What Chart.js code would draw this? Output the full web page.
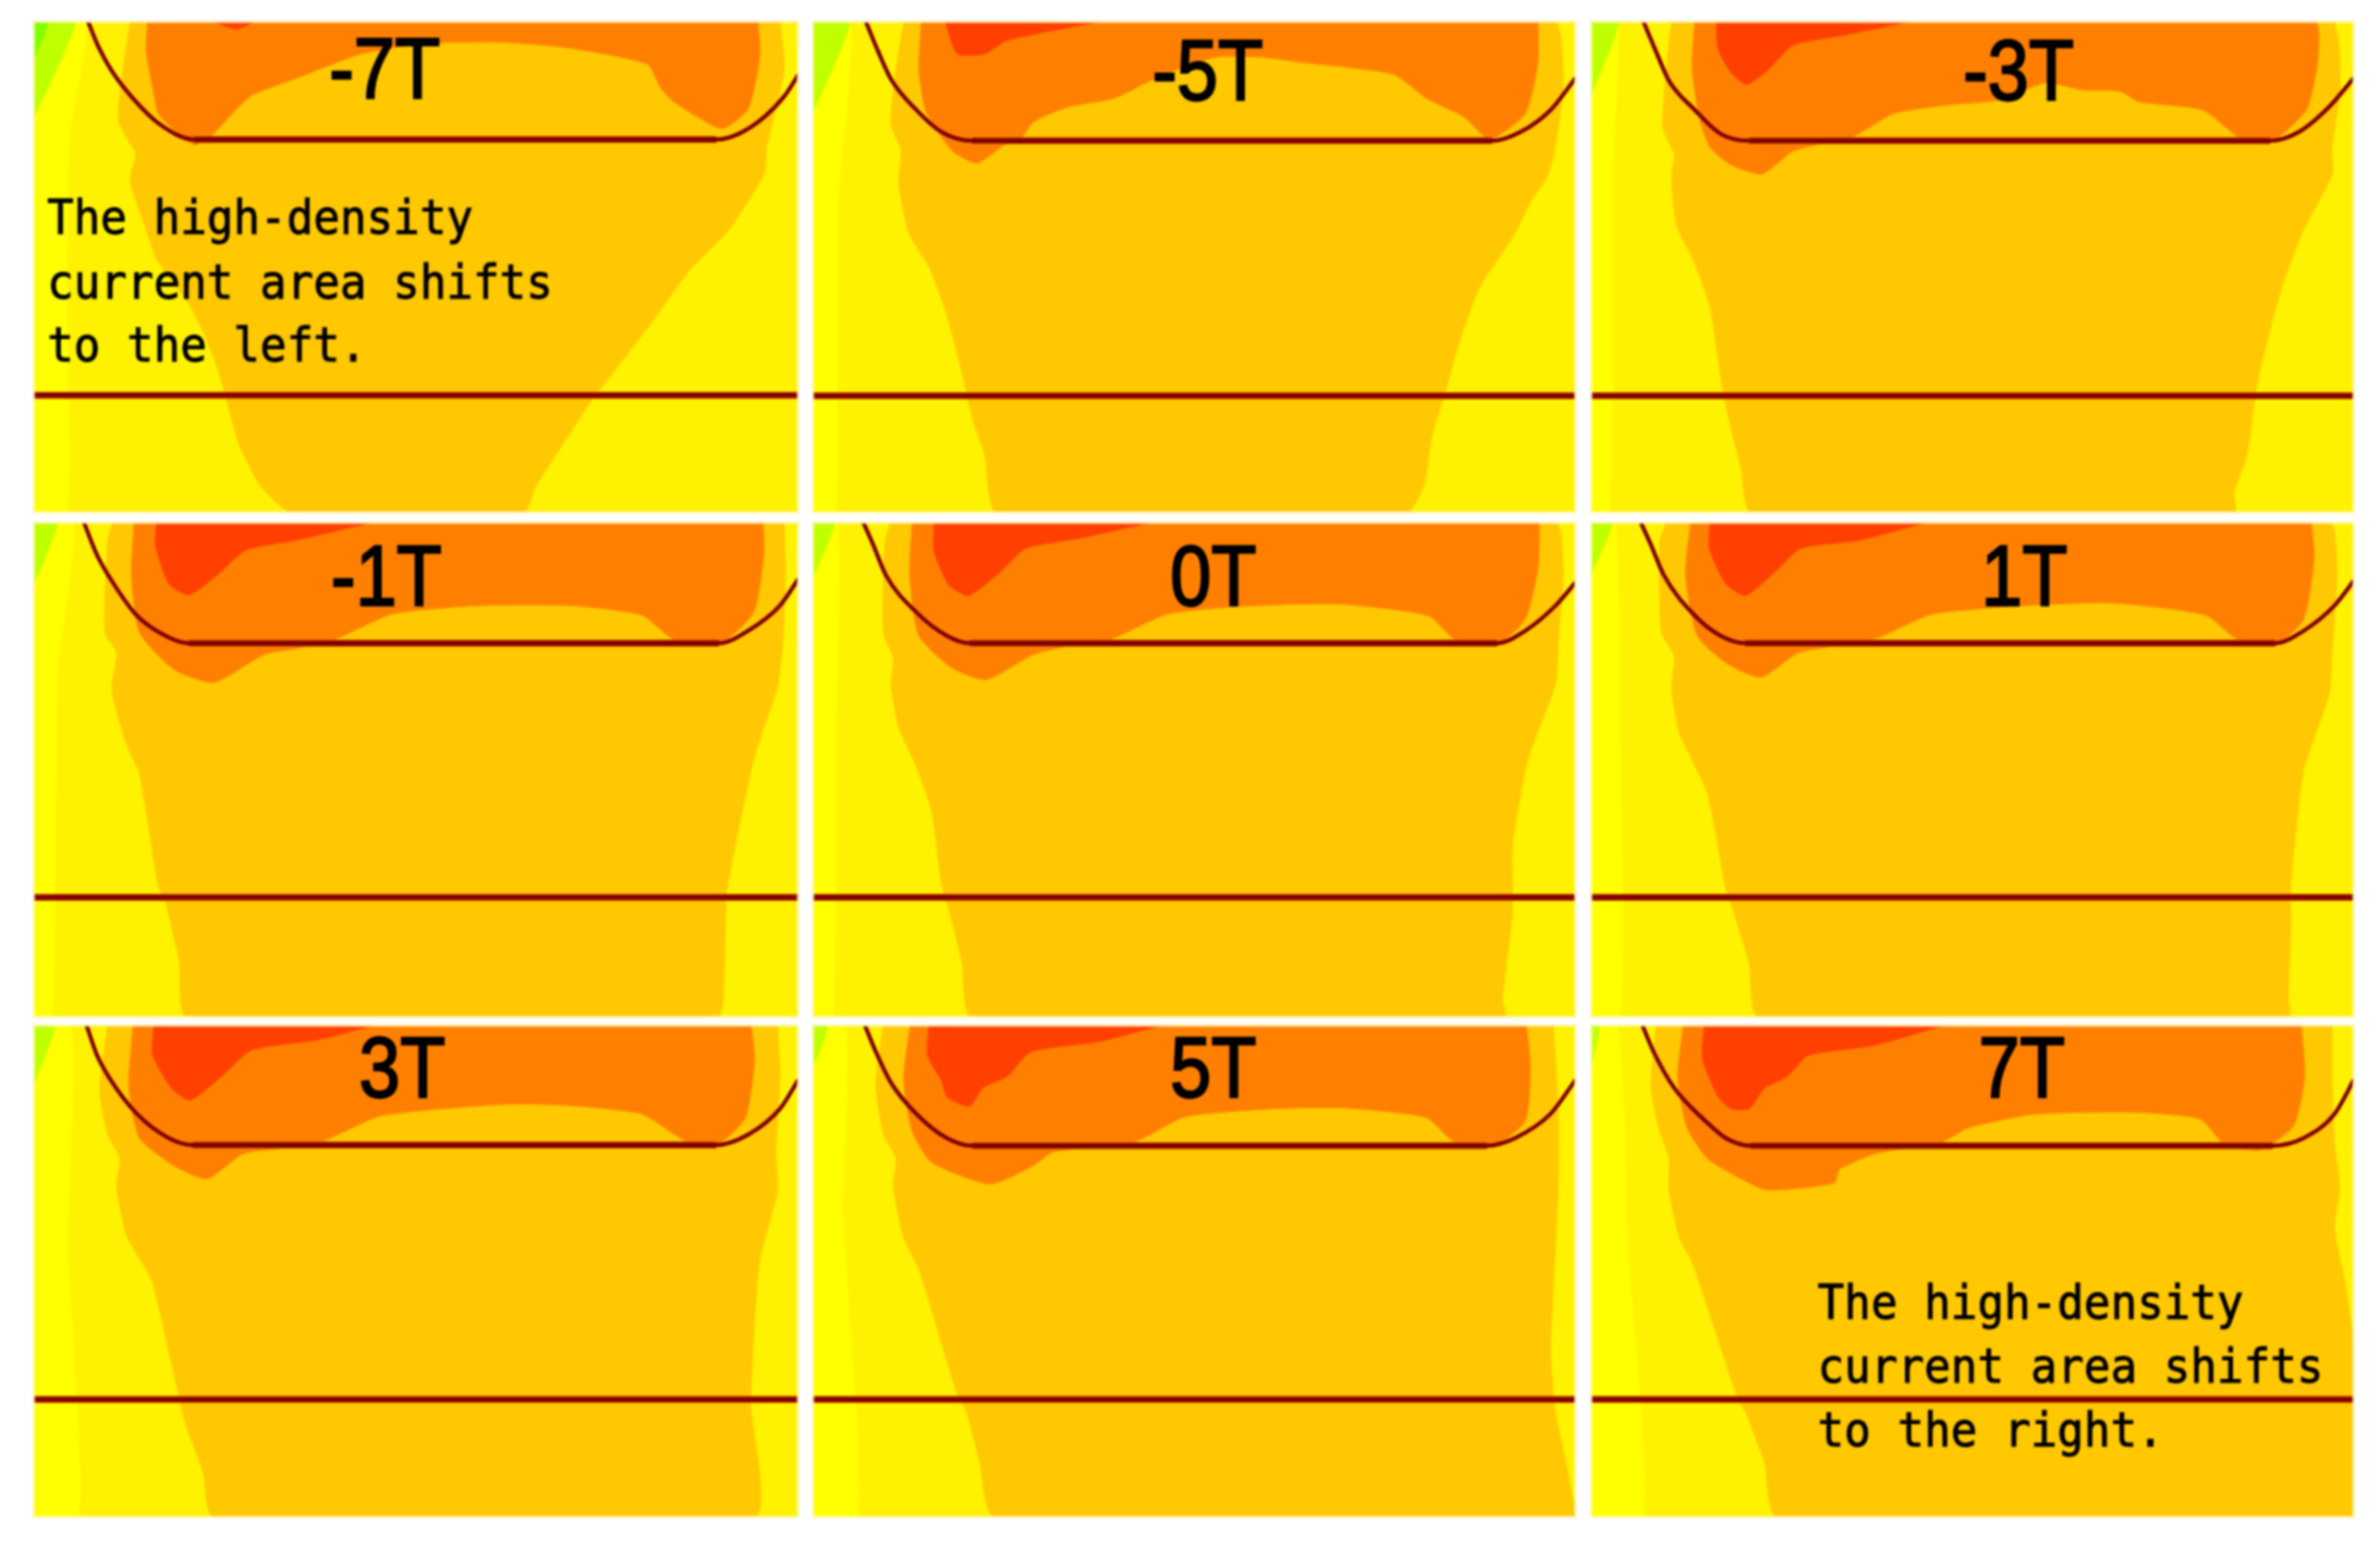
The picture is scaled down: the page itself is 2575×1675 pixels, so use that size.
<!DOCTYPE html>
<html>
<head>
<meta charset="utf-8">
<title>Current density maps</title>
<script src="https://cdn.jsdelivr.net/npm/chart.js@4"></script>
<style>
  body { margin: 0; background: #fff; width: 2575px; height: 1675px; position: relative; overflow: hidden; }
  canvas { position: absolute; outline: 3px solid rgba(255, 248, 200, 0.75); outline-offset: -2px; filter: blur(0.8px); }
</style>
</head>
<body>
<script>
// Panel names, left to right, top to bottom
const fieldLabels = ['-7T', '-5T', '-3T', '-1T', '0T', '1T', '3T', '5T', '7T'];

// Scale range of each panel, in the units the contours were read in
const xRanges = [[62,1505],[35,1540],[38,1518],[65,1505],[35,1540],[38,1518],[65,1505],[35,1540],[38,1518]];
const yRanges = [[65,1500],[60,1500],[60,1500],[42,1515],[42,1515],[42,1515],[52,1480],[52,1480],[52,1480]];

// Straight electrode line across each panel
const midLine = [1157,1157,1157,1158,1158,1158,1138,1138,1138];

// Contours, one row per panel
const greenCorner = [[62,65],[90,65],[62,180]];

const limeZone = [
  [[62,65],[140,65],[62,350]],
  [[35,60],[108,60],[35,330]],
  [[38,60],[92,60],[38,280]],
  [[65,42],[110,42],[65,230]],
  [[35,42],[78,42],[35,210]],
  [[38,42],[80,42],[38,200]],
  [[65,52],[105,52],[65,230]],
  [[35,52],[65,52],[35,180]],
  [[38,52],[55,52],[38,180]]
];

const stripZone = [
  [[62,65],[160,65],[130,400],[125,900],[125,1500],[62,1500]],
  [[35,60],[110,60],[85,600],[80,1500],[35,1500]],
  [[38,60],[90,60],[80,500],[75,1500],[38,1500]],
  [[65,42],[140,42],[110,500],[100,1515],[65,1515]],
  [[35,42],[85,42],[80,700],[75,1515],[35,1515]],
  [[38,42],[85,42],[95,700],[95,1515],[38,1515]],
  [[65,52],[135,52],[130,700],[150,1480],[65,1480]],
  [[35,52],[100,52],[95,600],[125,1480],[35,1480]],
  [[38,52],[90,52],[110,700],[140,1480],[38,1480]]
];

const amberZone = [
  [[245,65],[232,200],[222,350],[240,410],[255,450],[245,530],[270,650],[295,760],[355,890],[385,980],[410,1080],[430,1190],[450,1300],[490,1420],[550,1500],[985,1500],[1010,1420],[1060,1300],[1115,1170],[1170,1060],[1225,950],[1300,790],[1370,680],[1440,510],[1445,430],[1465,300],[1478,200],[1470,65]],
  [[215,60],[200,200],[190,360],[210,440],[205,530],[225,680],[265,780],[300,920],[330,1090],[350,1220],[375,1330],[400,1500],[1205,1500],[1240,1420],[1255,1280],[1285,1130],[1310,1000],[1350,840],[1420,680],[1450,590],[1485,510],[1500,420],[1515,250],[1510,100],[1500,60]],
  [[195,60],[185,200],[178,370],[200,450],[195,520],[205,660],[240,770],[270,900],[290,1100],[305,1220],[330,1370],[350,1500],[1285,1500],[1285,1440],[1310,1330],[1330,1120],[1375,850],[1420,670],[1475,510],[1475,430],[1490,270],[1490,150],[1480,60]],
  [[215,42],[205,100],[200,370],[222,430],[213,540],[240,700],[265,790],[300,1120],[315,1180],[340,1350],[355,1515],[1350,1515],[1365,1370],[1370,1140],[1420,750],[1465,530],[1475,400],[1480,200],[1478,42]],
  [[190,42],[178,100],[175,370],[195,450],[190,520],[205,650],[240,770],[270,900],[290,1120],[305,1200],[330,1350],[350,1515],[1400,1515],[1395,1460],[1415,1200],[1415,1000],[1445,750],[1500,520],[1505,400],[1515,200],[1510,70],[1500,42]],
  [[185,42],[172,100],[175,370],[200,440],[195,540],[210,670],[235,750],[265,850],[300,1130],[315,1200],[345,1350],[365,1515],[1390,1515],[1390,1450],[1395,1250],[1395,1120],[1420,780],[1470,550],[1475,430],[1485,200],[1480,70],[1472,42]],
  [[205,52],[190,240],[205,370],[228,440],[222,520],[240,660],[265,730],[290,800],[335,1100],[350,1200],[385,1350],[405,1480],[1420,1480],[1415,1150],[1430,750],[1465,530],[1462,430],[1470,200],[1465,52]],
  [[175,52],[160,220],[175,370],[200,440],[195,520],[215,670],[245,760],[320,1120],[340,1180],[365,1320],[395,1480],[1540,1480],[1520,1320],[1500,1180],[1490,1000],[1505,520],[1505,300],[1495,52]],
  [[165,52],[155,230],[170,350],[190,440],[190,530],[210,670],[235,740],[320,1120],[340,1180],[375,1320],[400,1480],[1518,1480],[1518,1000],[1500,800],[1480,640],[1490,520],[1480,400],[1475,200],[1475,52]]
];

const orangeZone = [
  [[278,65],[275,150],[290,280],[300,340],[365,425],[400,395],[470,285],[560,230],[680,160],[800,130],[930,125],[1060,140],[1220,190],[1245,260],[1270,300],[1360,378],[1410,320],[1432,160],[1428,65]],
  [[250,60],[245,200],[258,320],[290,400],[315,445],[360,475],[415,420],[445,405],[470,355],[540,310],[630,285],[720,220],[830,165],[920,165],[1000,180],[1180,215],[1245,285],[1320,340],[1370,405],[1440,330],[1465,180],[1465,60]],
  [[240,60],[235,200],[250,350],[270,430],[310,480],[370,507],[430,440],[480,420],[550,395],[625,330],[730,305],[830,290],[920,240],[990,260],[1065,265],[1100,295],[1225,320],[1300,405],[1360,410],[1425,320],[1445,200],[1450,100],[1445,60]],
  [[255,42],[250,200],[265,370],[330,480],[405,518],[500,435],[570,415],[640,385],[740,315],[900,290],[1080,290],[1210,318],[1270,390],[1355,405],[1420,310],[1440,130],[1438,42]],
  [[232,42],[227,200],[245,380],[310,475],[378,510],[470,435],[540,410],[625,388],[735,315],[880,292],[1075,285],[1250,320],[1300,388],[1385,405],[1440,330],[1465,180],[1468,42]],
  [[232,42],[222,200],[245,380],[300,460],[368,503],[440,430],[510,410],[595,385],[700,315],[880,290],[1050,282],[1230,318],[1290,388],[1370,402],[1420,330],[1440,150],[1435,42]],
  [[253,52],[245,230],[265,380],[330,460],[392,498],[460,425],[530,410],[610,388],[720,315],[950,282],[1070,285],[1210,310],[1295,390],[1355,395],[1405,320],[1422,150],[1415,52]],
  [[228,52],[215,210],[232,360],[270,450],[385,513],[470,460],[510,420],[670,390],[770,318],[940,295],[1080,292],[1245,320],[1300,390],[1375,405],[1440,330],[1450,170],[1442,52]],
  [[218,52],[207,200],[225,350],[265,440],[320,490],[380,530],[510,510],[520,470],[590,425],[720,390],[770,350],[900,310],[1100,305],[1220,325],[1265,395],[1335,415],[1400,345],[1422,200],[1415,52]]
];

const redZone = [
  [[400,65],[445,88],[480,65]],
  [[297,60],[320,155],[375,155],[420,115],[605,60]],
  [[282,60],[285,140],[310,210],[340,245],[380,205],[430,130],[530,100],[660,60]],
  [[297,42],[295,110],[320,225],[358,258],[410,200],[465,125],[560,95],[705,42]],
  [[275,42],[275,130],[305,230],[343,260],[405,190],[455,120],[560,90],[705,42]],
  [[270,42],[268,120],[300,225],[338,260],[395,190],[445,120],[560,95],[690,42]],
  [[292,52],[290,140],[325,235],[360,270],[420,200],[475,125],[600,95],[708,52]],
  [[265,52],[262,140],[290,215],[300,260],[345,288],[370,235],[420,200],[465,130],[600,100],[725,52]],
  [[258,52],[255,150],[285,260],[310,295],[345,295],[375,235],[420,200],[460,140],[590,110],[725,52]]
];

// U shaped electrode; points 5 and 6 are the ends of the flat bottom
const uCurve = [
  [[165,65],[185,140],[210,210],[250,290],[300,365],[365,410],[1350,410],[1390,395],[1440,345],[1480,280],[1505,220]],
  [[140,60],[165,150],[190,230],[240,320],[290,385],[350,410],[1375,410],[1430,385],[1490,320],[1540,225]],
  [[140,60],[165,150],[190,235],[240,320],[290,390],[345,410],[1355,410],[1410,385],[1470,310],[1518,225]],
  [[160,42],[185,140],[210,210],[260,320],[320,385],[358,402],[1355,402],[1410,365],[1470,290],[1505,210]],
  [[135,42],[155,110],[180,200],[240,310],[300,380],[345,402],[1385,402],[1440,365],[1500,290],[1540,220]],
  [[135,42],[155,110],[180,200],[240,320],[290,380],[338,402],[1365,402],[1420,365],[1480,290],[1518,215]],
  [[165,52],[185,140],[210,210],[260,310],[320,380],[365,400],[1350,400],[1410,370],[1470,295],[1505,210]],
  [[138,52],[160,130],[190,220],[240,310],[300,380],[350,402],[1365,402],[1420,380],[1490,310],[1540,210]],
  [[138,52],[160,130],[200,235],[260,330],[300,380],[348,402],[1360,402],[1420,380],[1480,310],[1518,210]]
];

// Where the big label starts: left edge and baseline
const labelAt = [[620,290],[705,290],[760,290],[625,290],[740,290],[795,290],[678,260],[740,260],[790,260]];

const leftNote = ['The high-density', 'current area shifts', 'to the left.'];
const rightNote = ['The high-density', 'current area shifts', 'to the right.'];
const leftNoteAt = [[88,685],[88,875],[88,1058]];
const rightNoteAt = [[478,905],[478,1090],[478,1275]];

// Layout of the 3x3 grid in page pixels
const colLeft = [36, 879, 1721];
const colWidth = [828, 826, 826];
const rowTop = [23, 565, 1109];
const rowHeight = [532, 536, 533];

const toPoints = list => list.map(p => ({ x: p[0], y: p[1] }));

function zone(list, color) {
  return { data: toPoints(list), backgroundColor: color, borderColor: color, borderWidth: 1, fill: 'shape', showLine: true, pointRadius: 0, tension: 0.2 };
}

function stroke(list, color, width) {
  return { data: toPoints(list), borderColor: color, borderWidth: width, fill: false, showLine: true, pointRadius: 0, cubicInterpolationMode: 'monotone' };
}

// The originals use a narrow typeface, so the text is squeezed sideways
function narrowText(ctx, text, x, y, squeeze, extra) {
  ctx.save();
  ctx.translate(x, y);
  ctx.scale(squeeze, 1);
  ctx.fillText(text, 0, 0);
  ctx.lineWidth = extra;
  ctx.strokeText(text, 0, 0);
  ctx.restore();
}

// Draws the field label and the note of a panel
const panelText = {
  id: 'panelText',
  afterDatasetsDraw(chart, args, opts) {
    const { ctx, scales } = chart;
    ctx.save();
    ctx.fillStyle = '#000';
    ctx.strokeStyle = '#000';
    ctx.textBaseline = 'alphabetic';
    ctx.textAlign = 'left';
    ctx.font = '93px "Liberation Sans", sans-serif';
    narrowText(ctx, opts.label, scales.x.getPixelForValue(opts.labelPos[0]), scales.y.getPixelForValue(opts.labelPos[1]), 0.86, 2.5);
    ctx.font = '52px "DejaVu Sans Mono", monospace';
    opts.note.forEach((line, j) => {
      narrowText(ctx, line, scales.x.getPixelForValue(opts.notePos[j][0]), scales.y.getPixelForValue(opts.notePos[j][1]), 0.92, 1);
    });
    ctx.restore();
  }
};

fieldLabels.forEach((label, i) => {
  const col = i % 3;
  const row = Math.floor(i / 3);
  const canvas = document.createElement('canvas');
  canvas.width = colWidth[col];
  canvas.height = rowHeight[row];
  canvas.style.left = colLeft[col] + 'px';
  canvas.style.top = rowTop[row] + 'px';
  canvas.style.background = '#FFF200';
  document.body.appendChild(canvas);

  const curve = uCurve[i];
  const flat = [curve[5], curve[6]];
  const mid = [[xRanges[i][0], midLine[i]], [xRanges[i][1], midLine[i]]];

  // First dataset is painted last
  const datasets = [
    stroke(mid, '#800000', 5.5),
    stroke(flat, '#800000', 5.5),
    stroke(curve, '#800000', 4.5),
    stroke(mid, '#D06000', 8),
    stroke(flat, '#D06000', 8),
    zone(redZone[i], '#FF4000'),
    zone(orangeZone[i], '#FF8000'),
    zone(amberZone[i], '#FFC800')
  ];
  if (i === 0) datasets.push(zone(greenCorner, '#80FF00'));
  datasets.push(zone(limeZone[i], '#BFFF00'), zone(stripZone[i], '#FFFF00'));

  new Chart(canvas, {
    type: 'scatter',
    data: { datasets },
    plugins: [panelText],
    options: {
      responsive: false,
      animation: false,
      layout: { padding: 0 },
      scales: {
        x: { type: 'linear', display: false, min: xRanges[i][0], max: xRanges[i][1] },
        y: { type: 'linear', display: false, reverse: true, min: yRanges[i][0], max: yRanges[i][1] }
      },
      plugins: {
        legend: { display: false },
        tooltip: { enabled: false },
        panelText: {
          label,
          labelPos: labelAt[i],
          note: i === 0 ? leftNote : i === 8 ? rightNote : [],
          notePos: i === 0 ? leftNoteAt : i === 8 ? rightNoteAt : []
        }
      }
    }
  });
});
</script>
</body>
</html>
